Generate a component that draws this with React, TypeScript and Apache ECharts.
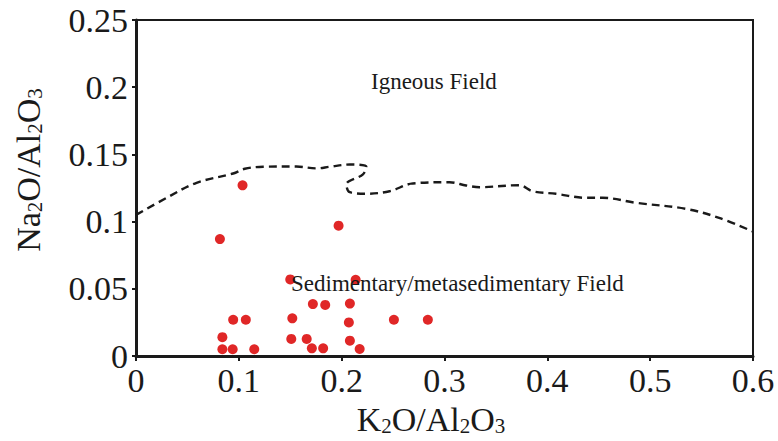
import React, { useEffect, useRef } from "react";
import * as echarts from "echarts";

// Sample points (K2O/Al2O3, Na2O/Al2O3)
const sampleK = [
  0.1036, 0.0816, 0.197, 0.084, 0.084, 0.0945, 0.1068, 0.094, 0.115, 0.15,
  0.152, 0.151, 0.166, 0.172, 0.171, 0.184, 0.2136, 0.208, 0.207, 0.2508,
  0.2838, 0.182, 0.208, 0.2175,
];
const sampleNa = [
  0.127, 0.087, 0.097, 0.014, 0.005, 0.027, 0.027, 0.005, 0.005, 0.057,
  0.028, 0.0127, 0.0127, 0.0386, 0.0057, 0.038, 0.0567, 0.039, 0.025, 0.027,
  0.027, 0.0057, 0.0114, 0.0052,
];

// Dashed boundary between igneous and sedimentary fields
const boundaryK = [
  0, 0.0298, 0.0589, 0.0945, 0.1058, 0.1236, 0.156, 0.1754, 0.1883, 0.2078,
  0.224, 0.2207, 0.2046, 0.2078, 0.224, 0.2466, 0.2692, 0.3049, 0.321, 0.334,
  0.3728, 0.3857, 0.4084, 0.4376, 0.4537, 0.4861, 0.5347, 0.567, 0.5993,
];
const boundaryNa = [
  0.105, 0.1177, 0.1289, 0.1358, 0.1393, 0.1408, 0.141, 0.1396, 0.1408, 0.1425,
  0.1408, 0.1351, 0.1276, 0.1219, 0.1207, 0.1226, 0.1284, 0.1293, 0.1269, 0.1256,
  0.1271, 0.1226, 0.1207, 0.1177, 0.1177, 0.114, 0.1095, 0.1028, 0.0928,
];

const fieldLabels = ["Igneous Field", "Sedimentary/metasedimentary Field"];

const FONT = "'Liberation Serif', 'Times New Roman', serif";

export default function App() {
  const ref = useRef<HTMLDivElement>(null);
  useEffect(() => {
    if (!ref.current) return;
    const chart = echarts.init(ref.current, undefined, { renderer: "svg" });
    const sub = { fontSize: 21, fontFamily: FONT, fill: "#1a1a1a", verticalAlign: "bottom" as const };
    const main = { fontSize: 34, fontFamily: FONT, fill: "#1a1a1a" };
    chart.setOption({
      animation: false,
      backgroundColor: "#fff",
      grid: {
        left: 136,
        right: 25,
        top: 20,
        bottom: 85,
        show: true,
        borderColor: "#1a1a1a",
        borderWidth: 2,
      },
      xAxis: {
        type: "value",
        min: 0,
        max: 0.6,
        interval: 0.1,
        splitLine: { show: false },
        axisLine: { show: true, onZero: false, lineStyle: { color: "#1a1a1a", width: 3 } },
        axisTick: { show: true, length: 5, lineStyle: { color: "#1a1a1a", width: 2 } },
        axisLabel: { color: "#1a1a1a", fontSize: 34, fontFamily: FONT, margin: 7 },
      },
      yAxis: {
        type: "value",
        min: 0,
        max: 0.25,
        interval: 0.05,
        splitLine: { show: false },
        axisLine: { show: true, onZero: false, lineStyle: { color: "#1a1a1a", width: 3 } },
        axisTick: { show: true, length: 4, lineStyle: { color: "#1a1a1a", width: 2 } },
        axisLabel: { color: "#1a1a1a", fontSize: 34, fontFamily: FONT, margin: 8 },
      },
      series: [
        {
          type: "line",
          data: boundaryK.map((k, i) => [k, boundaryNa[i]]),
          showSymbol: false,
          symbol: "none",
          smooth: 0.35,
          lineStyle: { color: "#1a1a1a", width: 2.4, type: [8, 5] },
          z: 2,
        },
        {
          type: "scatter",
          data: sampleK.map((k, i) => [k, sampleNa[i]]),
          symbol: "circle",
          symbolSize: 10,
          itemStyle: { color: "#e02727", opacity: 1 },
          z: 3,
        },
      ],
      graphic: [
        {
          type: "text",
          x: 371,
          y: 81,
          style: {
            text: fieldLabels[0],
            fontSize: 23,
            fontFamily: FONT,
            fill: "#1a1a1a",
            textAlign: "left",
            textVerticalAlign: "middle",
            align: "left",
            verticalAlign: "middle",
          },
        },
        {
          type: "text",
          x: 291,
          y: 283,
          z: 10,
          style: {
            text: fieldLabels[1],
            fontSize: 23,
            fontFamily: FONT,
            fill: "#1a1a1a",
            textAlign: "left",
            textVerticalAlign: "middle",
            align: "left",
            verticalAlign: "middle",
          },
        },
        {
          type: "text",
          x: 431,
          y: 419,
          style: {
            text: "{m|K}{s|2}{m|O/Al}{s|2}{m|O}{s|3}",
            rich: { m: main, s: sub },
            textAlign: "center",
            textVerticalAlign: "middle",
            align: "center",
            verticalAlign: "middle",
          },
        },
        {
          type: "text",
          x: 28,
          y: 170,
          rotation: Math.PI / 2,
          style: {
            text: "{m|Na}{s|2}{m|O/Al}{s|2}{m|O}{s|3}",
            rich: { m: main, s: sub },
            textAlign: "center",
            textVerticalAlign: "middle",
            align: "center",
            verticalAlign: "middle",
          },
        },
      ],
    });
    return () => chart.dispose();
  }, []);
  return (
    <div
      ref={ref}
      style={{ position: "fixed", left: 0, top: 0, width: 778, height: 441 }}
    />
  );
}
